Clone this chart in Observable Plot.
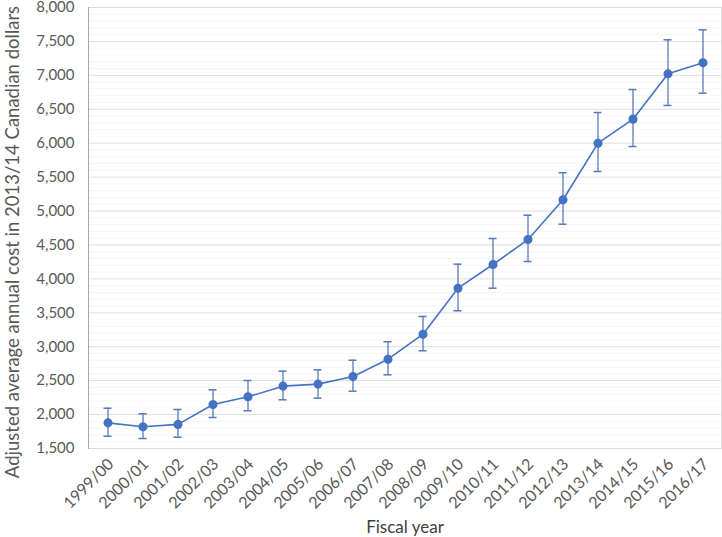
<!DOCTYPE html>
<html>
<head>
<meta charset="utf-8">
<script src="https://cdn.jsdelivr.net/npm/d3@7"></script>
<script src="https://cdn.jsdelivr.net/npm/@observablehq/plot@0.6"></script>
<style>
  html, body { margin: 0; padding: 0; background: #fff; }
  #chart { width: 722px; height: 537px; }
</style>
</head>
<body>
<div id="chart"></div>
<script>
const years = ["1999/00","2000/01","2001/02","2002/03","2003/04","2004/05","2005/06","2006/07","2007/08","2008/09","2009/10","2010/11","2011/12","2012/13","2013/14","2014/15","2015/16","2016/17"];
const cost  = [1878,1820,1855,2149,2262,2419,2449,2561,2816,3185,3863,4212,4580,5167,6000,6354,7022,7185];
const upper = [2094,2011,2075,2365,2502,2640,2660,2801,3073,3446,4217,4595,4939,5565,6452,6791,7524,7671];
const lower = [1681,1647,1666,1957,2056,2218,2242,2345,2586,2940,3530,3863,4256,4806,5583,5951,6556,6737];
const yTicks = [1500,2000,2500,3000,3500,4000,4500,5000,5500,6000,6500,7000,7500,8000];
const yMinorTicks = d3.range(1500, 8000, 100).filter(v => v % 500 !== 0);
const yTitle = "Adjusted average annual cost in 2013/14 Canadian dollars";
const xTitle = "Fiscal year";

const data = years.map((y, i) => ({year: y, cost: cost[i], hi: upper[i], lo: lower[i]}));
const blue = "#4472C4";
const errColor = "#5677b8";

const chart = Plot.plot({
  width: 722,
  height: 537,
  marginLeft: 88,
  marginRight: 1,
  marginTop: 7,
  marginBottom: 89,
  style: {fontFamily: "Lato, 'Open Sans', sans-serif", fontSize: "15px", color: "#595959", background: "#fff", overflow: "visible"},
  x: {type: "band", domain: years, padding: 0, label: null, axis: null},
  y: {domain: [1500, 8000], label: null},
  marks: [
    Plot.ruleY(yMinorTicks, {stroke: "#f6f6f6", strokeWidth: 1}),
    Plot.ruleY(yTicks, {stroke: "#dedede", strokeWidth: 1}),
    Plot.frame({stroke: "#d9d9d9"}),
    Plot.frame({anchor: "left", stroke: "#a6a6a6"}),
    Plot.axisY({ticks: yTicks, tickFormat: d3.format(","), tickSize: 0, tickPadding: 14, label: null, fontSize: 15, fill: "#595959"}),
    Plot.text(years, {x: d => d, text: d => d, frameAnchor: "bottom", rotate: -45, textAnchor: "end", lineAnchor: "middle", dx: 3, dy: 13, fontSize: 16, fill: "#595959"}),
    Plot.ruleX(data, {x: "year", y1: "lo", y2: "hi", stroke: errColor, strokeWidth: 1.5, strokeOpacity: 0.85}),
    Plot.tickY(data, {x: "year", y: "hi", stroke: errColor, strokeWidth: 1.5, insetLeft: 13.5, insetRight: 13.5}),
    Plot.tickY(data, {x: "year", y: "lo", stroke: errColor, strokeWidth: 1.5, insetLeft: 13.5, insetRight: 13.5}),
    Plot.line(data, {x: "year", y: "cost", stroke: blue, strokeWidth: 1.6}),
    Plot.dot(data, {x: "year", y: "cost", r: 3.8, fill: blue, stroke: blue}),
    Plot.text([yTitle], {frameAnchor: "left", textAnchor: "middle", rotate: -90, dx: -75, dy: 14, fontSize: 18.5, fill: "#595959"}),
    Plot.text([xTitle], {frameAnchor: "bottom", textAnchor: "middle", dy: 84, fontSize: 17, fill: "#404040"})
  ]
});
document.getElementById("chart").appendChild(chart);
</script>
</body>
</html>
